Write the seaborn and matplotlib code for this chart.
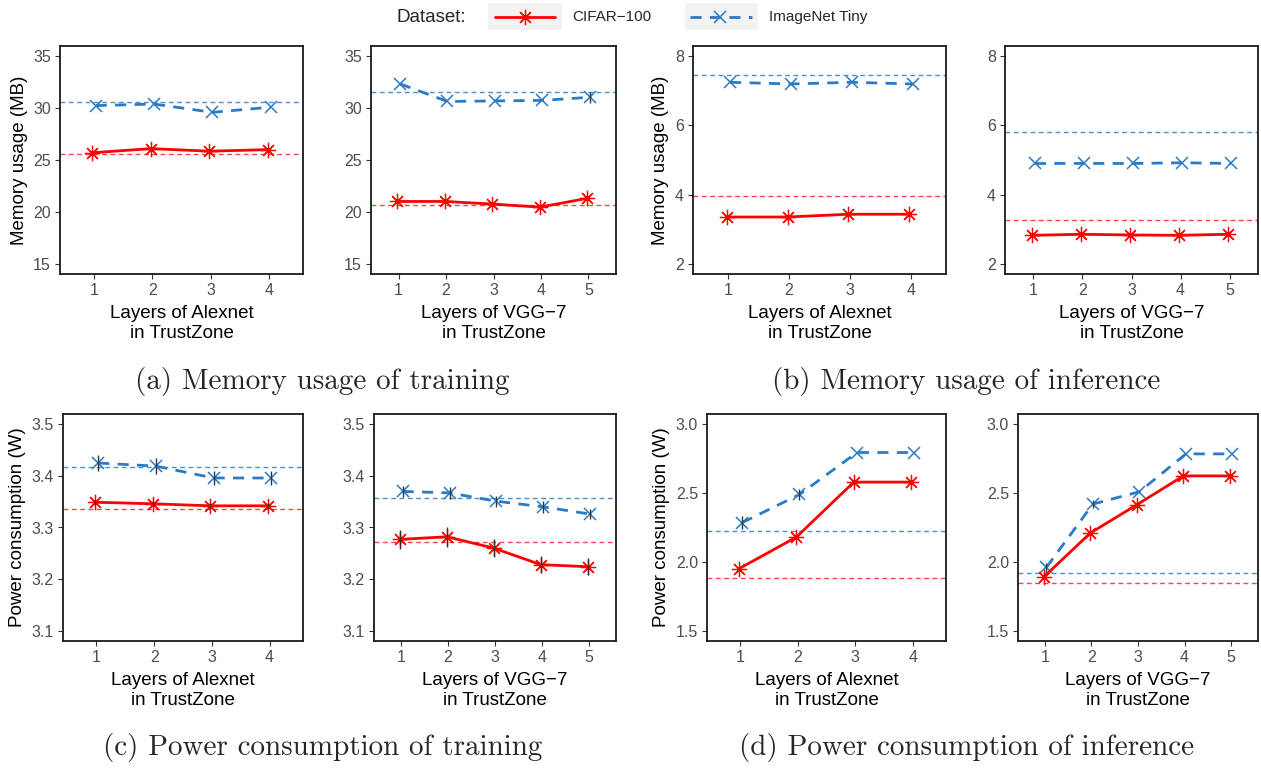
import numpy as np
import pandas as pd
import matplotlib
matplotlib.use("Agg")
import matplotlib.pyplot as plt
from matplotlib.patches import Rectangle
from matplotlib.lines import Line2D
import seaborn as sns

# ---------------- data ----------------
layers4 = [1, 2, 3, 4]
layers5 = [1, 2, 3, 4, 5]

# (a) memory usage of training (MB)
mem_train_alex_cifar = [25.7, 26.1, 25.85, 26.0]
mem_train_alex_imnet = [30.25, 30.4, 29.6, 30.1]
mem_train_alex_ref = [25.6, 30.55]
mem_train_vgg_cifar = [21.0, 21.0, 20.75, 20.45, 21.3]
mem_train_vgg_imnet = [32.35, 30.65, 30.7, 30.75, 31.05]
mem_train_vgg_imnet_err = [0.0, 0.0, 0.0, 0.0, 0.55]
mem_train_vgg_ref = [20.65, 31.55]

# (b) memory usage of inference (MB)
mem_inf_alex_cifar = [3.35, 3.35, 3.43, 3.43]
mem_inf_alex_imnet = [7.25, 7.2, 7.25, 7.2]
mem_inf_alex_ref = [3.95, 7.47]
mem_inf_vgg_cifar = [2.82, 2.85, 2.83, 2.82, 2.85]
mem_inf_vgg_imnet = [4.9, 4.9, 4.9, 4.92, 4.9]
mem_inf_vgg_ref = [3.25, 5.8]

# (c) power consumption of training (W)
pow_train_alex_cifar = [3.349, 3.346, 3.342, 3.342]
pow_train_alex_cifar_err = [0.005, 0.005, 0.005, 0.005]
pow_train_alex_imnet = [3.425, 3.419, 3.396, 3.396]
pow_train_alex_imnet_err = [0.015, 0.016, 0.013, 0.013]
pow_train_alex_ref = [3.335, 3.417]
pow_train_vgg_cifar = [3.277, 3.282, 3.260, 3.228, 3.224]
pow_train_vgg_cifar_err = [0.019, 0.019, 0.018, 0.017, 0.016]
pow_train_vgg_imnet = [3.370, 3.367, 3.351, 3.340, 3.326]
pow_train_vgg_imnet_err = [0.011, 0.012, 0.011, 0.011, 0.010]
pow_train_vgg_ref = [3.272, 3.358]

# (d) power consumption of inference (W)
pow_inf_alex_cifar = [1.95, 2.18, 2.58, 2.58]
pow_inf_alex_imnet = [2.285, 2.49, 2.795, 2.795]
pow_inf_alex_imnet_err = [0.045, 0.04, 0.0, 0.0]
pow_inf_alex_ref = [1.885, 2.225]
pow_inf_vgg_cifar = [1.89, 2.21, 2.415, 2.625, 2.625]
pow_inf_vgg_imnet = [1.96, 2.42, 2.51, 2.785, 2.785]
pow_inf_vgg_imnet_err = [0.03, 0.03, 0.0, 0.0, 0.0]
pow_inf_vgg_ref = [1.85, 1.92]

datasets = ["CIFAR\u2212100", "ImageNet Tiny"]
xlabels = ["Layers of Alexnet\nin TrustZone", "Layers of VGG\u22127\nin TrustZone"]
captions = ["(a) Memory usage of training", "(b) Memory usage of inference",
            "(c) Power consumption of training", "(d) Power consumption of inference"]

# ---------------- style ----------------
sns.set_theme(style="white")
plt.rcParams["font.family"] = ["Liberation Sans", "DejaVu Sans"]

RED = "#FF0000"
BLUE = "#2B7BC4"
RED_REF = "#F04848"
BLUE_REF = "#4A90D0"
ASTER = (8, 2, 0)

W, H = 1261, 769
fig = plt.figure(figsize=(W / 100, H / 100), dpi=100)


def add_ax(x0, x1, y0, y1):
    return fig.add_axes([x0 / W, 1 - y1 / H, (x1 - x0) / W, (y1 - y0) / H])


def panel(ax, layers, cifar, imnet, ref, ylim, yticks, xlabel, ylabel=None,
          cifar_err=None, imnet_err=None, fmt="%d"):
    n = len(layers)
    xs = np.array(layers, dtype=float)
    xr = xs - 0.025
    xb = xs + 0.03
    df = pd.DataFrame({"x": np.concatenate([xr, xb]),
                       "y": np.concatenate([cifar, imnet]),
                       "Dataset": [datasets[0]] * n + [datasets[1]] * n})
    ax.axhline(ref[0], color=RED_REF, lw=1.0, ls=(0, (3.5, 2.5)), zorder=1)
    ax.axhline(ref[1], color=BLUE_REF, lw=1.0, ls=(0, (3.5, 2.5)), zorder=1)
    sns.lineplot(data=df[df.Dataset == datasets[1]], x="x", y="y", ax=ax,
                 color=BLUE, lw=2.0, ls=(0, (4, 3)), marker="x", markersize=8.5,
                 markeredgecolor=BLUE, markeredgewidth=1.1, zorder=3,
                 legend=False, errorbar=None)
    sns.lineplot(data=df[df.Dataset == datasets[0]], x="x", y="y", ax=ax,
                 color=RED, lw=2.0, marker=ASTER, markersize=11,
                 markeredgecolor=RED, markeredgewidth=0.9, zorder=4,
                 legend=False, errorbar=None)
    if cifar_err is not None:
        ax.errorbar(xr, cifar, yerr=cifar_err, fmt="none", ecolor="#333333",
                    elinewidth=1.0, capsize=0, zorder=5)
    if imnet_err is not None:
        ax.errorbar(xb, imnet, yerr=imnet_err, fmt="none", ecolor="#333333",
                    elinewidth=1.0, capsize=0, zorder=5)
    ax.set_xlim(0.42, n + 0.58)
    ax.set_ylim(*ylim)
    ax.set_xticks(layers)
    ax.set_xticklabels([str(v) for v in layers])
    ax.set_yticks(yticks)
    ax.set_yticklabels([fmt % v for v in yticks])
    ax.tick_params(axis="both", which="both", direction="out", length=3.5,
                   width=0.8, color="#333333", labelsize=11.5, labelcolor="#4D4D4D",
                   pad=3, bottom=True, left=True)
    for s in ax.spines.values():
        s.set_color("#1A1A1A")
        s.set_linewidth(1.3)
    ax.set_xlabel(xlabel, fontsize=13.5, color="black", labelpad=5, linespacing=1.2)
    ax.set_ylabel(ylabel if ylabel else "", fontsize=13.5, color="black", labelpad=4)
    ax.grid(False)


row1 = (46, 274)
row2 = (414, 641)

ax1 = add_ax(60, 303, *row1)
panel(ax1, layers4, mem_train_alex_cifar, mem_train_alex_imnet, mem_train_alex_ref,
      (14, 36), [15, 20, 25, 30, 35], xlabels[0], "Memory usage (MB)")
ax2 = add_ax(371, 616, *row1)
panel(ax2, layers5, mem_train_vgg_cifar, mem_train_vgg_imnet, mem_train_vgg_ref,
      (14, 36), [15, 20, 25, 30, 35], xlabels[1], imnet_err=mem_train_vgg_imnet_err)
ax3 = add_ax(693, 946, *row1)
panel(ax3, layers4, mem_inf_alex_cifar, mem_inf_alex_imnet, mem_inf_alex_ref,
      (1.7, 8.3), [2, 4, 6, 8], xlabels[0], "Memory usage (MB)")
ax4 = add_ax(1005, 1258, *row1)
panel(ax4, layers5, mem_inf_vgg_cifar, mem_inf_vgg_imnet, mem_inf_vgg_ref,
      (1.7, 8.3), [2, 4, 6, 8], xlabels[1])

ax5 = add_ax(63, 303, *row2)
panel(ax5, layers4, pow_train_alex_cifar, pow_train_alex_imnet, pow_train_alex_ref,
      (3.08, 3.52), [3.1, 3.2, 3.3, 3.4, 3.5], xlabels[0], "Power consumption (W)",
      cifar_err=pow_train_alex_cifar_err, imnet_err=pow_train_alex_imnet_err, fmt="%.1f")
ax6 = add_ax(374, 616, *row2)
panel(ax6, layers5, pow_train_vgg_cifar, pow_train_vgg_imnet, pow_train_vgg_ref,
      (3.08, 3.52), [3.1, 3.2, 3.3, 3.4, 3.5], xlabels[1],
      cifar_err=pow_train_vgg_cifar_err, imnet_err=pow_train_vgg_imnet_err, fmt="%.1f")
ax7 = add_ax(707, 946, *row2)
panel(ax7, layers4, pow_inf_alex_cifar, pow_inf_alex_imnet, pow_inf_alex_ref,
      (1.425, 3.075), [1.5, 2.0, 2.5, 3.0], xlabels[0], "Power consumption (W)",
      imnet_err=pow_inf_alex_imnet_err, fmt="%.1f")
ax8 = add_ax(1018, 1258, *row2)
panel(ax8, layers5, pow_inf_vgg_cifar, pow_inf_vgg_imnet, pow_inf_vgg_ref,
      (1.425, 3.075), [1.5, 2.0, 2.5, 3.0], xlabels[1],
      imnet_err=pow_inf_vgg_imnet_err, fmt="%.1f")

# captions
cap_pos = [(322, 381), (966, 381), (323, 747), (967, 747)]
for (cx, cy), txt in zip(cap_pos, captions):
    fig.text(cx / W, 1 - cy / H, txt, ha="center", va="center",
             fontsize=21, family="cmr10")

# legend (drawn in a dedicated axes using pixel coordinates)
lax = fig.add_axes([0, 1 - 34 / H, 1, 34 / H])
lax.set_xlim(0, W)
lax.set_ylim(34, 0)
lax.axis("off")
lax.text(397, 17, "Dataset:", fontsize=13.5, va="center", ha="left")
lax.add_patch(Rectangle((488, 3), 74, 27, facecolor="#F2F2F2", edgecolor="none"))
lax.add_patch(Rectangle((685, 3), 73, 27, facecolor="#F2F2F2", edgecolor="none"))
lax.add_line(Line2D([495, 555], [16.5, 16.5], color=RED, lw=2.0))
lax.add_line(Line2D([525], [16.5], color=RED, marker=ASTER, markersize=11,
                    markeredgecolor=RED, markeredgewidth=0.9, ls="none"))
lax.add_line(Line2D([690, 752], [16.5, 16.5], color=BLUE, lw=2.0, ls=(0, (4, 3))))
lax.add_line(Line2D([720], [16.5], color=BLUE, marker="x", markersize=8.5,
                    markeredgecolor=BLUE, markeredgewidth=1.1, ls="none"))
lax.text(572, 17, datasets[0], fontsize=11, va="center", ha="left")
lax.text(769, 17, datasets[1], fontsize=11, va="center", ha="left")

fig.savefig("out.png", dpi=100)
